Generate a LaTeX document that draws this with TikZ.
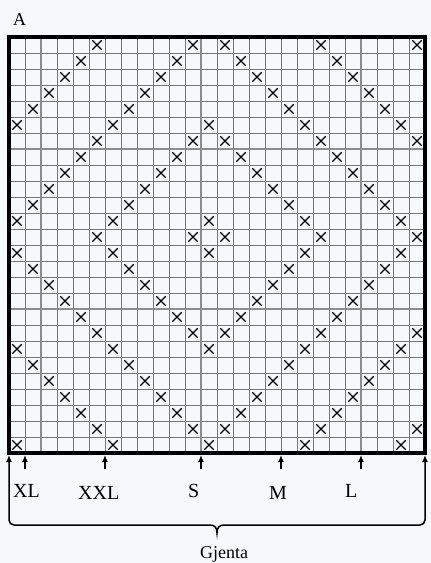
\documentclass[tikz,border=0pt]{standalone}
\usepackage{fontspec}
\setmainfont{Liberation Serif}
\usetikzlibrary{arrows.meta}
\definecolor{chartbg}{RGB}{246,249,252}
\definecolor{gridgrey}{RGB}{118,118,118}
\definecolor{guidegrey}{RGB}{140,140,140}

\begin{document}
\begin{tikzpicture}[x=1pt,y=-1pt,
    cross/.style={line width=1.3pt,black},
    sizearrow/.style={-{Latex[length=7pt,width=6pt]},line width=1.6pt},
    chartlabel/.style={font=\fontsize{18}{21}\selectfont,inner sep=0pt,anchor=base west},
    sizelabel/.style={chartlabel,font=\fontsize{20}{23}\selectfont}]
  % background, fixes the page size
  \fill[chartbg] (0,0) rectangle (431,563);
  \useasboundingbox (0,0) rectangle (431,563);

  % chart title
  \node[chartlabel] (title) at (13,25) {A};

  % thin grid, 26 x 26 stitches
  \foreach \i in {1,...,25}{
    \draw[gridgrey,line width=0.9pt] (9+16*\i,37) -- (9+16*\i,453);
    \draw[gridgrey,line width=0.9pt] (9,37+16*\i) -- (425,37+16*\i);
  }
  % guide lines every ten stitches
  \foreach \i in {2,12,22}{
    \draw[guidegrey,line width=1.8pt] (9+16*\i,37) -- (9+16*\i,453);
  }
  \foreach \j in {7,17}{
    \draw[guidegrey,line width=1.8pt] (9,37+16*\j) -- (425,37+16*\j);
  }

  % crosses, row by row from the top
  \foreach \r/\cols in {
      0/{5,11,13,19,25}, 1/{4,10,14,20}, 2/{3,9,15,21}, 3/{2,8,16,22},
      4/{1,7,17,23}, 5/{0,6,12,18,24},
      6/{5,11,13,19,25}, 7/{4,10,14,20}, 8/{3,9,15,21}, 9/{2,8,16,22},
      10/{1,7,17,23}, 11/{0,6,12,18,24}, 12/{5,11,13,19,25},
      13/{0,6,12,18,24}, 14/{1,7,17,23}, 15/{2,8,16,22}, 16/{3,9,15,21},
      17/{4,10,14,20}, 18/{5,11,13,19,25},
      19/{0,6,12,18,24}, 20/{1,7,17,23}, 21/{2,8,16,22}, 22/{3,9,15,21},
      23/{4,10,14,20}, 24/{5,11,13,19,25}, 25/{0,6,12,18,24}}{
    \foreach \c in \cols{
      \draw[cross] (9+16*\c+3.3,37+16*\r+3.3) -- ++(9.4,9.4)
                   (9+16*\c+12.7,37+16*\r+3.3) -- ++(-9.4,9.4);
    }
  }

  % chart outline
  \draw[line width=3.2pt] (9,37) rectangle (425,453);

  % size start arrows
  \foreach \sz/\i in {XL/1,XXL/6,S/12,M/17,L/22}{
    \coordinate (base-\sz) at (9+16*\i,469);
    \coordinate (tip-\sz) at (9+16*\i,455);
    \draw[sizearrow] (base-\sz) -- (tip-\sz);
  }
  \node[sizelabel] (lab-XL) at (13,497) {XL};
  \node[sizelabel] (lab-XXL) at (78,499) {XXL};
  \node[sizelabel] (lab-S) at (188,497) {S};
  \node[sizelabel] (lab-M) at (269,499) {M};
  \node[sizelabel] (lab-L) at (345,497) {L};

  % repeat brace
  \coordinate (rep-left) at (9,455);
  \coordinate (rep-right) at (425,455);
  \draw[{Latex[length=7pt,width=6pt]}-{Latex[length=7pt,width=6pt]},line width=1.5pt]
    (rep-left) [rounded corners=5pt] -- (9,525) [sharp corners] -- (210,525)
    .. controls (215,525) and (217,528) .. (217,533)
    .. controls (217,528) and (219,525) .. (224,525)
    [rounded corners=5pt] -- (425,525) [sharp corners] -- (rep-right);
  \node[chartlabel] (repeat) at (200,558) {Gjenta};
\end{tikzpicture}
\end{document}
